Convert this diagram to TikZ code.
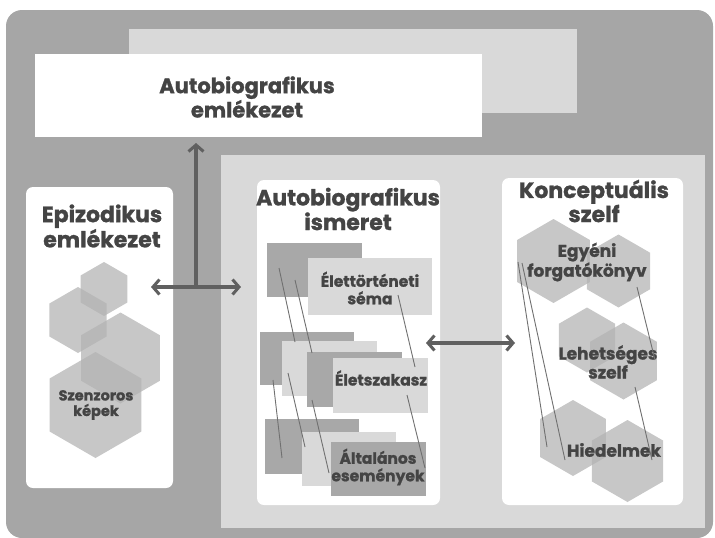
\documentclass[tikz,border=0pt]{standalone}
\usepackage{fontspec}
\setmainfont{Poppins}[BoldFeatures={FakeBold=1.2}]
\usetikzlibrary{arrows.meta}
\definecolor{outerg}{HTML}{A6A6A6}
\definecolor{lightg}{HTML}{D9D9D9}
\definecolor{darkr}{HTML}{A8A8A8}
\definecolor{txt}{HTML}{444444}
\definecolor{arr}{HTML}{606060}
\definecolor{hexc}{RGB}{179,179,179}
\definecolor{linec}{HTML}{707070}
\newcommand\hexg[3]{\fill[hexfill] (#1,#2) +(90:#3) -- +(150:#3) -- +(210:#3) -- +(270:#3) -- +(330:#3) -- +(30:#3) -- cycle;}
\begin{document}
\begin{tikzpicture}[x=1pt,y=-1pt,
  every node/.style={inner sep=0pt, outer sep=0pt},
  panel/.style={fill=white, rounded corners=7pt},
  ttl/.style={font=\bfseries\fontsize{22}{22}\selectfont, text=txt, align=center},
  ttlT/.style={font=\bfseries\fontsize{21}{20}\selectfont, text=txt, align=center},
  smlL/.style={font=\bfseries\fontsize{14.5}{15.5}\selectfont, text=txt, align=center},
  smlM/.style={font=\bfseries\fontsize{15.5}{17.5}\selectfont, text=txt, align=center},
  smlR/.style={font=\bfseries\fontsize{17}{17}\selectfont, text=txt, align=center},
  darkbox/.style={fill=darkr},
  lightbox/.style={fill=lightg},
  hexfill/.style={fill=hexc, fill opacity=0.73},
  thinline/.style={draw=linec, line width=0.9pt},
  conn/.style={draw=arr, line width=3.3pt},
  >={Straight Barb[length=6.5pt,width=15pt,line width=3pt]}
]
\useasboundingbox (0,0) rectangle (715,538);
% outer frame
\fill[outerg, rounded corners=16pt] (6,10) rectangle (713,538);
% top boxes
\node[fill=lightg, anchor=north west, minimum width=448pt, minimum height=84pt] (back) at (129,29) {};
\node[fill=white, anchor=north west, minimum width=447pt, minimum height=83pt] (top) at (35,54) {};
\node[ttlT] (toptxt) at (247,97) {Autobiografikus\\emlékezet};
% inner panel
\node[fill=lightg, anchor=north west, minimum width=484pt, minimum height=373pt] (inner) at (221,155) {};
% white panels
\node[panel, anchor=north west, minimum width=147pt, minimum height=301pt] (epi) at (26,187) {};
\node[panel, anchor=north west, minimum width=183pt, minimum height=325pt] (mid) at (257,180) {};
\node[panel, anchor=north west, minimum width=181pt, minimum height=327pt] (kon) at (502,178) {};
\node[ttl] (epitxt) at (102,226) {Epizodikus\\emlékezet};
\node[ttl] (midtxt) at (348,209) {Autobiografikus\\ismeret};
\node[ttl] (kontxt) at (594,201) {Konceptuális\\szelf};
% left hexagons
\hexg{104}{289}{27}
\hexg{78}{320}{33}
\hexg{120.5}{358}{45.5}
\hexg{95.5}{405}{53}
\node[smlL] (szen) at (96,405) {Szenzoros\\képek};
% middle rectangles
\node[darkbox, anchor=north west, minimum width=95pt, minimum height=54pt] (d1) at (267,243) {};
\node[lightbox, anchor=north west, minimum width=124pt, minimum height=57pt] (l1) at (308,258) {};
\node[smlM] (ele) at (370,288) {Élettörténeti\\séma};
\node[darkbox, anchor=north west, minimum width=94pt, minimum height=53pt] (d2) at (260,332) {};
\node[lightbox, anchor=north west, minimum width=95pt, minimum height=55pt] (l2) at (282,341) {};
\node[darkbox, anchor=north west, minimum width=95pt, minimum height=55pt] (d3) at (307,352) {};
\node[lightbox, anchor=north west, minimum width=95pt, minimum height=55pt] (l3) at (333,358) {};
\node[smlM] (esz) at (381,378) {Életszakasz};
\node[darkbox, anchor=north west, minimum width=94pt, minimum height=55pt] (d4) at (265,419) {};
\node[lightbox, anchor=north west, minimum width=94pt, minimum height=54pt] (l4) at (302,432) {};
\node[darkbox, anchor=north west, minimum width=95pt, minimum height=54pt] (d5) at (331,442) {};
\node[smlM] (alt) at (378,467) {Általános\\események};
% middle lines
\coordinate (m1a) at (279,268); \coordinate (m1b) at (295,342);
\coordinate (m2a) at (295,280); \coordinate (m2b) at (312,353);
\coordinate (m3a) at (398,295); \coordinate (m3b) at (415,367);
\coordinate (m4a) at (288,373); \coordinate (m4b) at (305,447);
\coordinate (m5a) at (273,380); \coordinate (m5b) at (282,458);
\coordinate (m6a) at (312,400); \coordinate (m6b) at (329,473);
\coordinate (m7a) at (407,395); \coordinate (m7b) at (425,468);
\foreach \i in {1,...,7} {\draw[thinline] (m\i a) -- (m\i b);}
% right hexagons
\hexg{553.5}{261}{42}
\hexg{618.5}{271}{36.5}
\hexg{587}{340}{32.5}
\hexg{623.5}{361}{38.5}
\hexg{573}{438}{38}
\hexg{627.5}{461}{41}
\node[smlR] (egy) at (587,262) {Egyéni\\forgatókönyv};
\node[smlR] (leh) at (608,362) {Lehetséges\\szelf};
\node[smlR] (hie) at (614,450) {Hiedelmek};
% right lines
\coordinate (r1a) at (518,262); \coordinate (r1b) at (547,447);
\coordinate (r2a) at (522,263); \coordinate (r2b) at (565,460);
\coordinate (r3a) at (637,287); \coordinate (r3b) at (655,360);
\coordinate (r4a) at (635,387); \coordinate (r4b) at (652,460);
\foreach \i in {1,...,4} {\draw[thinline] (r\i a) -- (r\i b);}
% arrows
\coordinate (jn) at (196,287);
\coordinate (aL) at (151,287);
\coordinate (aR) at (241,287);
\coordinate (aT) at (196,143);
\draw[conn,<->] (aL) -- (aR);
\draw[conn,->] (jn) -- (aT);
\coordinate (bL) at (426,343);
\coordinate (bR) at (515,343);
\draw[conn,<->] (bL) -- (bR);
\end{tikzpicture}
\end{document}
